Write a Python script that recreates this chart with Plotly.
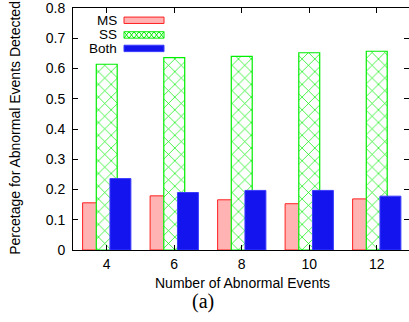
import plotly.graph_objects as go

events = [4, 6, 8, 10, 12]
ms = [0.156, 0.179, 0.166, 0.153, 0.169]
ss = [0.614, 0.636, 0.640, 0.652, 0.657]
both = [0.236, 0.190, 0.197, 0.197, 0.178]
series_names = ["MS", "SS", "Both"]
yticks = [0, 0.1, 0.2, 0.3, 0.4, 0.5, 0.6, 0.7, 0.8]
ytick_text = ["0", "0.1", "0.2", "0.3", "0.4", "0.5", "0.6", "0.7", "0.8"]

W, H = 409, 322
L, R, T, B = 73, 0, 8, 71.5
pw, ph = W - L - R, H - T - B
FONT = "Liberation Sans, Arial, sans-serif"
FS = 14
off = 0.405
bw = 0.62

fig = go.Figure()
fig.add_trace(go.Bar(x=[e - off for e in events], y=ms, width=bw, name=series_names[0],
                     marker=dict(color="#ffb3b3", line=dict(color="#ff2020", width=1))))
fig.add_trace(go.Bar(x=events, y=ss, width=bw, name=series_names[1],
                     marker=dict(color="white", line=dict(color="#00ee00", width=1.2),
                                 pattern=dict(shape="x", fgcolor="#00ee00", bgcolor="white",
                                              size=9, solidity=0.15, fillmode="replace"))))
fig.add_trace(go.Bar(x=[e + off for e in events], y=both, width=bw, name=series_names[2],
                     marker=dict(color="#1414ee", line=dict(color="#3a3aff", width=1))))

def px2x(p):
    return (p - L) / pw

def py2y(p):
    return (H - B - p) / ph

shapes = []
annotations = []
# legend (gnuplot style: text then sample)
leg = [(series_names[0], 20.3, dict(fillcolor="#ffb3b3", line=dict(color="#ff2020", width=1))),
       (series_names[1], 35.0, dict(fillcolor="white", line=dict(color="#00ee00", width=1))),
       (series_names[2], 48.5, dict(fillcolor="#1414ee", line=dict(color="#3a3aff", width=1)))]
sx0, sx1 = 124, 164
for name, cy, st in leg:
    annotations.append(dict(text=name, x=px2x(118), y=py2y(cy), xref="paper", yref="paper",
                            xanchor="right", yanchor="middle", showarrow=False, borderpad=0,
                            font=dict(family=FONT, size=13.5, color="black")))
    shapes.append(dict(type="rect", xref="paper", yref="paper",
                       x0=px2x(sx0), x1=px2x(sx1), y0=py2y(cy - 3.2), y1=py2y(cy + 3.2),
                       layer="above", **st))
# cross-hatch in SS legend swatch
cy = 35.0
pts_a, pts_b = [], []
n = 8
for i in range(n + 1):
    xx = sx0 + (sx1 - sx0) * i / n
    ya = cy - 3.2 if i % 2 == 0 else cy + 3.2
    yb = cy + 3.2 if i % 2 == 0 else cy - 3.2
    pts_a.append((px2x(xx), py2y(ya)))
    pts_b.append((px2x(xx), py2y(yb)))
for pts in (pts_a, pts_b):
    path = "M" + " L".join(f"{a:.5f},{b:.5f}" for a, b in pts)
    shapes.append(dict(type="path", path=path, xref="paper", yref="paper",
                       line=dict(color="#00ee00", width=1), layer="above"))

annotations.append(dict(text="Percetage for Abnormal Events Detected", x=px2x(15), y=py2y(128),
                        xref="paper", yref="paper", textangle=-90, showarrow=False,
                        xanchor="center", yanchor="middle",
                        font=dict(family=FONT, size=FS, color="black")))
annotations.append(dict(text="Number of Abnormal Events", x=px2x(242), y=py2y(284),
                        xref="paper", yref="paper", showarrow=False,
                        xanchor="center", yanchor="middle",
                        font=dict(family=FONT, size=FS, color="black")))
annotations.append(dict(text="(a)", x=px2x(203), y=py2y(302.5),
                        xref="paper", yref="paper", showarrow=False,
                        xanchor="center", yanchor="middle",
                        font=dict(family="Liberation Serif, Times New Roman, serif", size=20, color="black")))

fig.update_layout(
    width=W, height=H, autosize=False,
    margin=dict(l=L, r=R, t=T, b=B, pad=0),
    paper_bgcolor="white", plot_bgcolor="white",
    barmode="overlay", showlegend=False,
    font=dict(family=FONT, size=FS, color="black"),
    shapes=shapes, annotations=annotations,
    xaxis=dict(range=[3, 3 + pw / 33.75], tickvals=events, ticktext=[str(e) for e in events],
               ticks="inside", ticklen=5, tickcolor="black", showline=True, linecolor="black",
               linewidth=1, mirror="ticks", showgrid=False, zeroline=False,
               tickfont=dict(family=FONT, size=FS), ticklabelstandoff=1,
               ticklabeloverflow="allow"),
    yaxis=dict(range=[0, 0.8], tickvals=yticks, ticktext=ytick_text,
               ticks="inside", ticklen=5, tickcolor="black", showline=True, linecolor="black",
               linewidth=1, mirror="ticks", showgrid=False, zeroline=False,
               tickfont=dict(family=FONT, size=FS), ticklabelstandoff=4,
               ticklabeloverflow="allow"),
)

fig.write_html("out.html", config={"displayModeBar": False},
               post_script="document.body.style.margin='0';document.body.style.overflow='hidden';")
